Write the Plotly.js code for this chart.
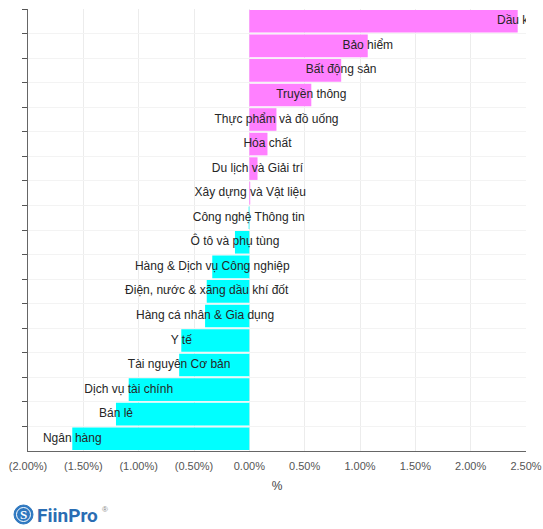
<!DOCTYPE html>
<html>
<head>
<meta charset="utf-8">
<script src="https://cdn.plot.ly/plotly-3.0.1.min.js"></script>
<style>html,body{margin:0;padding:0;background:#fff;}#chart{width:543px;height:529px;}</style>
</head>
<body>
<div id="chart"></div>
<script>
var categories = [
  "Dầu khí", "Bảo hiểm", "Bất động sản", "Truyền thông", "Thực phẩm và đồ uống",
  "Hóa chất", "Du lịch và Giải trí", "Xây dựng và Vật liệu", "Công nghệ Thông tin",
  "Ô tô và phụ tùng", "Hàng & Dịch vụ Công nghiệp", "Điện, nước & xăng dầu khí đốt",
  "Hàng cá nhân & Gia dụng", "Y tế", "Tài nguyên Cơ bản", "Dịch vụ tài chính",
  "Bán lẻ", "Ngân hàng"
];
var values = [
  2.425, 1.07, 0.83, 0.56, 0.245,
  0.164, 0.074, 0.008, -0.006,
  -0.13, -0.335, -0.385,
  -0.40, -0.615, -0.634, -1.09,
  -1.205, -1.60
];
var tickVals = [-2, -1.5, -1, -0.5, 0, 0.5, 1, 1.5, 2, 2.5];
var xTitle = "%";
var logoText = "FiinPro";

function fmt(v) {
  return v < 0 ? "(" + Math.abs(v).toFixed(2) + "%)" : v.toFixed(2) + "%";
}
var tickText = tickVals.map(fmt);
var colors = values.map(function (v) { return v >= 0 ? "#ff80ff" : "#00ffff"; });

var bars = {
  type: "bar", orientation: "h",
  x: values, y: categories,
  marker: { color: colors, line: { width: 0 } },
  hoverinfo: "x+y"
};
var labels = {
  type: "scatter", mode: "text",
  x: values, y: categories, text: categories,
  textposition: "middle center",
  textfont: { family: "Liberation Sans, Arial, sans-serif", size: 12, color: "#262626" },
  cliponaxis: true, hoverinfo: "skip"
};

var layout = {
  width: 543, height: 529,
  margin: { l: 28, r: 17, t: 9, b: 78 },
  paper_bgcolor: "#ffffff", plot_bgcolor: "#ffffff",
  showlegend: false,
  bargap: 0.08,
  font: { family: "Liberation Sans, Arial, sans-serif", color: "#444" },
  xaxis: {
    range: [-2, 2.5], tickvals: tickVals, ticktext: tickText,
    tickfont: { size: 11, color: "#555" },
    ticklabelstandoff: 5,
    showgrid: true, gridcolor: "#ececec", gridwidth: 1,
    zeroline: false, showline: true, linecolor: "#666", linewidth: 1,
    ticks: "", fixedrange: true,
    title: { text: xTitle, font: { size: 12, color: "#444" }, standoff: 10 }
  },
  yaxis: {
    type: "category", range: [categories.length - 0.5, -0.5],
    showticklabels: false, tickson: "boundaries",
    ticks: "outside", ticklen: 5, tickcolor: "#555", tickwidth: 1,
    showgrid: true, gridcolor: "#f3f3f3",
    showline: true, linecolor: "#666", linewidth: 1,
    zeroline: false, fixedrange: true
  },
  shapes: [
    { type: "circle", xref: "paper", yref: "paper",
      x0: (14 - 28) / 498, x1: (33 - 28) / 498,
      y0: (451 - 524) / 442, y1: (451 - 505) / 442,
      fillcolor: "#2f78c0", line: { color: "#2f78c0", width: 1 } },
    { type: "circle", xref: "paper", yref: "paper",
      x0: (16.5 - 28) / 498, x1: (30.5 - 28) / 498,
      y0: (451 - 521.5) / 442, y1: (451 - 507.5) / 442,
      line: { color: "#ffffff", width: 1 } }
  ],
  annotations: [
    { xref: "paper", yref: "paper", x: (23.5 - 28) / 498, y: (451 - 514.5) / 442,
      xanchor: "center", yanchor: "middle", showarrow: false,
      text: "<b>S</b>", font: { family: "Liberation Serif, serif", size: 13, color: "#ffffff" } },
    { xref: "paper", yref: "paper", x: (35 - 28) / 498, y: (451 - 515) / 442,
      xanchor: "left", yanchor: "middle", showarrow: false,
      text: "<b>" + logoText + "</b>", font: { family: "Roboto, Arial, sans-serif", size: 19, color: "#2a6db3" } },
    { xref: "paper", yref: "paper", x: (100 - 28) / 498, y: (451 - 509) / 442,
      xanchor: "left", yanchor: "middle", showarrow: false,
      text: "®", font: { family: "Liberation Sans, Arial, sans-serif", size: 8, color: "#888" } }
  ]
};

Plotly.newPlot("chart", [bars, labels], layout, { displayModeBar: false, staticPlot: true });
</script>
</body>
</html>
